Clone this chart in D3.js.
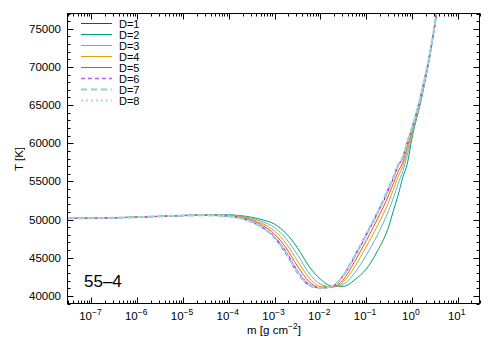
<!DOCTYPE html>
<html>
<head>
<meta charset="utf-8">
<script src="https://cdn.jsdelivr.net/npm/d3@7"></script>
<style>
  body { margin: 0; background: #fff; }
  text { font-family: "Liberation Sans", Arial, sans-serif; fill: #000; }
</style>
</head>
<body>
<svg id="chart" width="500" height="350"></svg>
<script>
// log10 of m [g cm^-2], shared by all series
var logM = [-7.52, -7, -6.5, -6, -5.5, -5, -4.5, -4, -3.75, -3.5, -3.25, -3, -2.75, -2.5, -2.25,
            -2, -1.75, -1.5, -1.25, -1, -0.75, -0.5, -0.4, -0.3, -0.2, -0.1, 0, 0.2, 0.4, 0.6];

var tD1 = [50150, 50180, 50230, 50320, 50420, 50520, 50560, 50450, 50200, 49720, 48950, 47750, 45800, 43300, 41550,
           41050, 41250, 42600, 45100, 47900, 50800, 54000, 55500, 57000, 58100, 60100, 61900, 66400, 72000, 79500];
var tD2 = [50150, 50180, 50230, 50320, 50420, 50540, 50620, 50620, 50520, 50300, 49950, 49400, 48200, 46300, 43900,
           42200, 41300, 41250, 42100, 43500, 45900, 49200, 51250, 53200, 55500, 57300, 60600, 65600, 71600, 79300];
var tD3 = [50150, 50180, 50230, 50320, 50420, 50530, 50600, 50580, 50450, 50180, 49700, 48950, 47500, 45400, 43000,
           41550, 41200, 41500, 43000, 45300, 48000, 51300, 52900, 54700, 56300, 58400, 61000, 65800, 71700, 79400];
var tD4 = [50150, 50180, 50230, 50320, 50420, 50530, 50590, 50550, 50380, 50050, 49450, 48500, 46900, 44600, 42400,
           41250, 41150, 41800, 43800, 46400, 49200, 52400, 54000, 55600, 57000, 59000, 61300, 66000, 71800, 79400];
var tD5 = [50150, 50180, 50230, 50320, 50420, 50520, 50580, 50500, 50300, 49900, 49200, 48100, 46300, 43900, 41900,
           41100, 41150, 42100, 44500, 47200, 50100, 53300, 54800, 56300, 57500, 59600, 61600, 66200, 71900, 79400];
var tD6 = [50150, 50180, 50230, 50320, 50420, 50520, 50560, 50430, 50150, 49650, 48850, 47550, 45500, 43000, 41400,
           41000, 41250, 42700, 45300, 48100, 51000, 54300, 55700, 57200, 58200, 60200, 62000, 66400, 72000, 79500];
var tD7 = [50150, 50180, 50230, 50320, 50420, 50520, 50560, 50440, 50170, 49680, 48900, 47650, 45650, 43150, 41450,
           41020, 41250, 42650, 45200, 48000, 50900, 54200, 55600, 57100, 58150, 60150, 61950, 66400, 72000, 79500];
var tD8 = [50150, 50180, 50230, 50320, 50420, 50520, 50560, 50440, 50180, 49700, 48920, 47700, 45720, 43220, 41500,
           41030, 41250, 42620, 45150, 47950, 50850, 54100, 55550, 57050, 58120, 60120, 61920, 66400, 72000, 79500];

var seriesNames = ["D=1", "D=2", "D=3", "D=4", "D=5", "D=6", "D=7", "D=8"];
var seriesT = [tD1, tD2, tD3, tD4, tD5, tD6, tD7, tD8];

var xTickExp = [-7, -6, -5, -4, -3, -2, -1, 0, 1];
var yTicks = [40000, 45000, 50000, 55000, 60000, 65000, 70000, 75000];

// line styles
var colors = ["#9400d3", "#009e73", "#56b4e9", "#e69f00", "#ea4a35", "#b55ef0", "#8fd6bf", "#a9d9f2"];
var dashes = [null, null, null, null, null, "4,3", "6,4", "2,3"];
var widths = [1, 1, 1, 1, 1, 1.3, 2, 2];

(function() {
var svg = d3.select("#chart");
var pL = 67.5, pR = 479.5, pT = 13.5, pB = 303.5;

var x = d3.scaleLog().domain([3e-8, 30]).range([pL, pR]);
var y = d3.scaleLinear().domain([39000, 77000]).range([pB, pT]);

svg.append("defs").append("clipPath").attr("id", "clip")
   .append("rect").attr("x", pL).attr("y", pT)
   .attr("width", pR - pL).attr("height", pB - pT);

// curves
var line = d3.line()
    .x(function(d) { return x(Math.pow(10, d[0])); })
    .y(function(d) { return y(d[1]); })
    .curve(d3.curveMonotoneX);

var g = svg.append("g").attr("clip-path", "url(#clip)");
seriesT.forEach(function(t, i) {
    var pts = logM.map(function(e, j) { return [e, t[j]]; });
    g.append("path")
     .attr("d", line(pts))
     .attr("fill", "none")
     .attr("stroke", colors[i])
     .attr("stroke-width", widths[i])
     .attr("stroke-dasharray", dashes[i]);
});

// ticks (inward, mirrored)
var tickG = svg.append("g").attr("stroke", "#000").attr("stroke-width", 1);
var xt = [];
for (var e = -8; e <= 1; e++) {
    for (var k = 1; k <= 9; k++) {
        var v = k * Math.pow(10, e);
        if (v >= 3e-8 && v <= 30) xt.push({v: v, major: k == 1});
    }
}
xt.forEach(function(t) {
    var px = Math.round(x(t.v)) + 0.5;
    var len = t.major ? 6 : 3;
    tickG.append("line").attr("x1", px).attr("x2", px).attr("y1", pB).attr("y2", pB - len);
    tickG.append("line").attr("x1", px).attr("x2", px).attr("y1", pT).attr("y2", pT + len);
});
for (var v = 39000; v <= 77000; v += 1000) {
    var py = Math.round(y(v)) + 0.5;
    var len = (v % 5000 == 0) ? 6 : 3;
    tickG.append("line").attr("x1", pL).attr("x2", pL + len).attr("y1", py).attr("y2", py);
    tickG.append("line").attr("x1", pR).attr("x2", pR - len).attr("y1", py).attr("y2", py);
}

// frame
svg.append("rect").attr("x", pL).attr("y", pT)
   .attr("width", pR - pL).attr("height", pB - pT)
   .attr("fill", "none").attr("stroke", "#000").attr("stroke-width", 1);

// tick labels
svg.selectAll(".ylab").data(yTicks).enter().append("text")
   .attr("x", 61).attr("y", function(d) { return y(d) + 4; })
   .attr("text-anchor", "end").attr("font-size", 11.5)
   .text(function(d) { return d; });

xTickExp.forEach(function(e) {
    var t = svg.append("text").attr("x", x(Math.pow(10, e)) - 1).attr("y", 320)
       .attr("text-anchor", "middle").attr("font-size", 11.5);
    t.append("tspan").text("10");
    t.append("tspan").attr("dy", -5).attr("font-size", 8.5).text(e < 0 ? "\u2212" + (-e) : e);
});

// axis titles
svg.append("text").attr("transform", "translate(23,159) rotate(-90)")
   .attr("text-anchor", "middle").attr("font-size", 11.5).text("T [K]");
var xl = svg.append("text").attr("x", 274).attr("y", 334)
   .attr("text-anchor", "middle").attr("font-size", 11.5);
xl.append("tspan").text("m [g cm");
xl.append("tspan").attr("dy", -5).attr("font-size", 8.5).text("\u22122");
xl.append("tspan").attr("dy", 5).text("]");

// legend
seriesNames.forEach(function(name, i) {
    var ly = 23.5 + i * 11;
    svg.append("line").attr("x1", 81).attr("x2", 112).attr("y1", ly).attr("y2", ly)
       .attr("stroke", colors[i]).attr("stroke-width", widths[i])
       .attr("stroke-dasharray", dashes[i]);
    svg.append("text").attr("x", 119).attr("y", ly + 4).attr("font-size", 11).text(name);
});

// panel label
svg.append("text").attr("x", 84).attr("y", 287).attr("font-size", 17).text("55\u20134");
})();
</script>
</body>
</html>
